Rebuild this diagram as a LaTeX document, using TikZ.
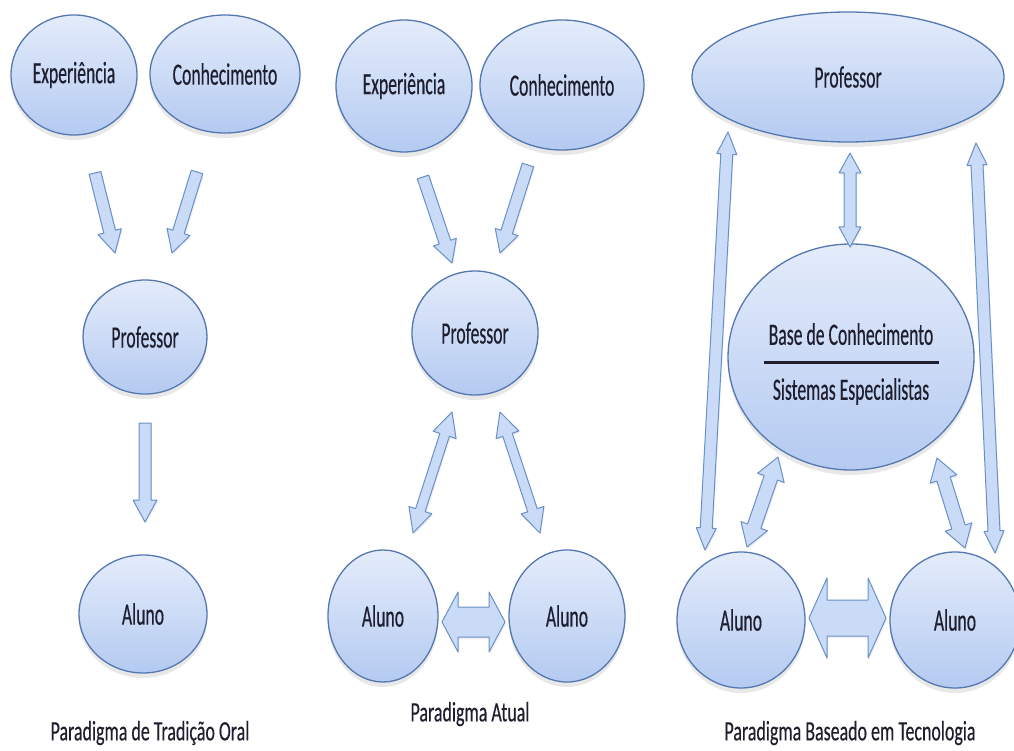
\documentclass[tikz,border=0pt]{standalone}
\usepackage{fontspec}
\setmainfont{Carlito}[FakeStretch=0.57,FakeBold=0.35]
\newfontfamily\lblfont{Carlito}[FakeStretch=0.64,FakeBold=0.3]
\usetikzlibrary{shapes.geometric,calc,shadows}
\definecolor{ellfillA}{HTML}{E4ECFB}
\definecolor{ellfillB}{HTML}{B4CAF1}
\definecolor{elldraw}{HTML}{5577B0}
\definecolor{arrfill}{HTML}{C9DBF6}
\definecolor{arrdraw}{HTML}{6A90C8}
\definecolor{txt}{HTML}{1E1E2E}
\tikzset{
 ell/.style={ellipse, draw=elldraw, line width=1.3pt, top color=ellfillA, bottom color=ellfillB,
   inner sep=0pt, text=txt, font=\fontsize{31}{37}\selectfont,
   drop shadow={shadow xshift=0pt, shadow yshift=-5pt, opacity=0.18}},
 blockarr/.style={draw=arrdraw, fill=arrfill, line width=1pt, line join=round,
   drop shadow={shadow xshift=1pt, shadow yshift=-2pt, opacity=0.12}},
 lbl/.style={text=txt, font=\lblfont\fontsize{28}{34}\selectfont, inner sep=0pt},
 basetxt/.style={text=txt, font=\fontsize{31}{37}\selectfont, inner sep=0pt, align=center},
}
% single block arrow: from, to, shaft half width, head half width, head length
\newcommand\sarrow[5]{%
 \draw[blockarr] let \p1=($(#2)-(#1)$), \n1={atan2(\y1,\x1)}, \n2={veclen(\x1,\y1)}, \n3={\n2-#5pt} in
  ($(#1)+({\n1+90}:#3pt)$) -- ($(#1)+(\n1:\n3)+({\n1+90}:#3pt)$) -- ($(#1)+(\n1:\n3)+({\n1+90}:#4pt)$)
  -- (#2) -- ($(#1)+(\n1:\n3)+({\n1-90}:#4pt)$) -- ($(#1)+(\n1:\n3)+({\n1-90}:#3pt)$)
  -- ($(#1)+({\n1-90}:#3pt)$) -- cycle;}
% double block arrow
\newcommand\darrow[5]{%
 \draw[blockarr] let \p1=($(#2)-(#1)$), \n1={atan2(\y1,\x1)}, \n2={veclen(\x1,\y1)}, \n3={\n2-#5pt} in
  (#1) -- ($(#1)+(\n1:#5pt)+({\n1+90}:#4pt)$) -- ($(#1)+(\n1:#5pt)+({\n1+90}:#3pt)$)
  -- ($(#1)+(\n1:\n3)+({\n1+90}:#3pt)$) -- ($(#1)+(\n1:\n3)+({\n1+90}:#4pt)$)
  -- (#2) -- ($(#1)+(\n1:\n3)+({\n1-90}:#4pt)$) -- ($(#1)+(\n1:\n3)+({\n1-90}:#3pt)$)
  -- ($(#1)+(\n1:#5pt)+({\n1-90}:#3pt)$) -- ($(#1)+(\n1:#5pt)+({\n1-90}:#4pt)$) -- cycle;}
\begin{document}
\begin{tikzpicture}[x=1pt,y=-1pt]
\useasboundingbox[fill=white] (0,0) rectangle (1014,751);
% ---------- column 1
\node[ell, minimum width=126pt, minimum height=120pt] (expA) at (74,75) {Experiência};
\node[ell, minimum width=150pt, minimum height=118pt] (conA) at (225,74) {Conhecimento};
\node[ell, minimum width=124pt, minimum height=114pt] (profA) at (145,337) {Professor};
\node[ell, minimum width=128pt, minimum height=118pt] (aluA) at (143,614) {Aluno};
\coordinate (a1s) at (95,173);  \coordinate (a1e) at (115,253);
\coordinate (a2s) at (197,172); \coordinate (a2e) at (172,253);
\coordinate (a3s) at (145,423); \coordinate (a3e) at (145,522);
\sarrow{a1s}{a1e}{6}{12}{22}
\sarrow{a2s}{a2e}{6}{12}{22}
\sarrow{a3s}{a3e}{6}{12}{22}
\node[lbl] (lblA) at (150,733) {Paradigma de Tradição Oral};
% ---------- column 2
\node[ell, minimum width=136pt, minimum height=132pt] (expB) at (404,86) {Experiência};
\node[ell, minimum width=164pt, minimum height=130pt] (conB) at (562,85) {Conhecimento};
\node[ell, minimum width=126pt, minimum height=124pt] (profB) at (475,333) {Professor};
\node[ell, minimum width=110pt, minimum height=132pt] (aluB1) at (383,616) {Aluno};
\node[ell, minimum width=116pt, minimum height=132pt] (aluB2) at (567,616) {Aluno};
\coordinate (b1s) at (423,177); \coordinate (b1e) at (452,263);
\coordinate (b2s) at (528,165); \coordinate (b2e) at (500,253);
\coordinate (b3s) at (452,412); \coordinate (b3e) at (413,533);
\coordinate (b4s) at (500,412); \coordinate (b4e) at (540,533);
\coordinate (b5s) at (442,622); \coordinate (b5e) at (505,622);
\sarrow{b1s}{b1e}{6}{12}{22}
\sarrow{b2s}{b2e}{6}{12}{22}
\darrow{b3s}{b3e}{5}{12}{24}
\darrow{b4s}{b4e}{5}{12}{24}
\darrow{b5s}{b5e}{15}{30}{16}
\node[lbl] (lblB) at (470,714) {Paradigma Atual};
% ---------- column 3
\node[ell, minimum width=312pt, minimum height=130pt] (profC) at (848,77) {Professor};
\node[ell, minimum width=246pt, minimum height=226pt] (baseC) at (851,357) {};
\node[basetxt] (baseT) at (851,364) {Base de Conhecimento\\[-18pt]\rule{175pt}{2.5pt}\\[-1pt]Sistemas Especialistas};
\node[ell, minimum width=128pt, minimum height=136pt] (aluC1) at (741,620) {Aluno};
\node[ell, minimum width=130pt, minimum height=136pt] (aluC2) at (955,620) {Aluno};
\coordinate (c1s) at (850,153); \coordinate (c1e) at (850,247);
\coordinate (c2s) at (728,132); \coordinate (c2e) at (705,550);
\coordinate (c3s) at (976,143); \coordinate (c3e) at (995,553);
\coordinate (c4s) at (778,457); \coordinate (c4e) at (747,547);
\coordinate (c5s) at (937,458); \coordinate (c5e) at (965,548);
\coordinate (c6s) at (809,618); \coordinate (c6e) at (886,618);
\darrow{c1s}{c1e}{6}{11}{20}
\darrow{c2s}{c2e}{6}{10}{22}
\darrow{c3s}{c3e}{6}{10}{22}
\darrow{c4s}{c4e}{7}{14}{22}
\darrow{c5s}{c5e}{7}{14}{22}
\darrow{c6s}{c6e}{18}{40}{18}
\node[lbl] (lblC) at (850,733) {Paradigma Baseado em Tecnologia};
\end{tikzpicture}
\end{document}
